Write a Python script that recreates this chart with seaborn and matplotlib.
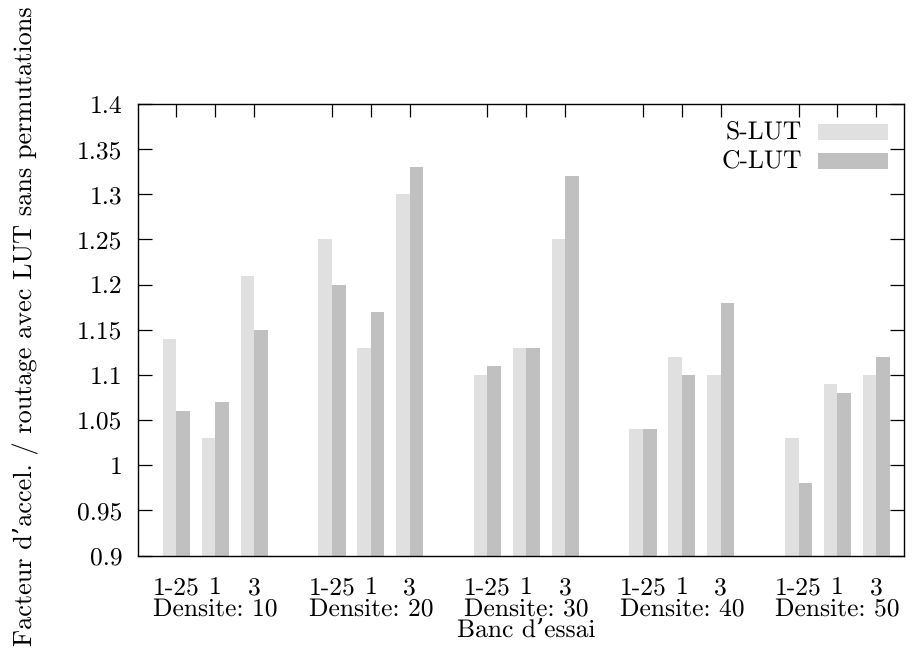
import matplotlib
matplotlib.use("Agg")
import matplotlib.pyplot as plt
import seaborn as sns
import pandas as pd
from matplotlib.patches import Rectangle

# ---- data -------------------------------------------------------------
densities = [10, 20, 30, 40, 50]
benchmarks = ["1-25", "1", "3"]
series = ["S-LUT", "C-LUT"]
s_lut = [1.14, 1.03, 1.21,
         1.25, 1.13, 1.30,
         1.10, 1.13, 1.25,
         1.04, 1.12, 1.10,
         1.03, 1.09, 1.10]
c_lut = [1.06, 1.07, 1.15,
         1.20, 1.17, 1.33,
         1.11, 1.13, 1.32,
         1.04, 1.10, 1.18,
         0.98, 1.08, 1.12]
y_ticks = [0.9, 0.95, 1.0, 1.05, 1.1, 1.15, 1.2, 1.25, 1.3, 1.35, 1.4]
y_tick_labels = ["0.9", "0.95", "1", "1.05", "1.1", "1.15", "1.2",
                 "1.25", "1.3", "1.35", "1.4"]
group_label = "Densite: {}"
x_title = "Banc d\u2019essai"
y_title = "Facteur d\u2019accel. / routage avec LUT sans permutations"
colors = ["#e0e0e0", "#c0c0c0"]

# ---- style ------------------------------------------------------------
sns.set_theme(style="white")
plt.rcParams["font.family"] = ["cmr10", "DejaVu Serif"]
plt.rcParams["axes.formatter.use_mathtext"] = True
plt.rcParams["text.hinting"] = "no_hinting"
FS = 18.4

rows = []
positions = []
for gi, d in enumerate(densities):
    for bi, b in enumerate(benchmarks):
        pos = gi * (len(benchmarks) + 1) + bi
        positions.append(pos)
        k = gi * len(benchmarks) + bi
        rows.append(dict(pos=pos, series=series[0], value=s_lut[k]))
        rows.append(dict(pos=pos, series=series[1], value=c_lut[k]))
df = pd.DataFrame(rows)

fig = plt.figure(figsize=(9.16, 6.52), dpi=100)
ax = fig.add_axes([137.5 / 916, 96.5 / 652, 766 / 916, 451.5 / 652])

sns.barplot(data=df, x="pos", y="value", hue="series", hue_order=series,
            palette=colors, native_scale=True, width=0.7, errorbar=None,
            saturation=1, edgecolor="none", linewidth=0, legend=False, ax=ax)

ax.set_xlim(-1.0, 18.7)
ax.set_ylim(0.9, 1.4)
ax.set_xlabel("")
ax.set_ylabel("")

for sp in ax.spines.values():
    sp.set_visible(True)
    sp.set_color("black")
    sp.set_linewidth(1.0)

ax.set_xticks(positions)
ax.set_xticklabels([])
ax.tick_params(axis="x", which="major", direction="in", length=9.2, width=0.9,
               color="black", top=True, bottom=False,
               labelbottom=False, labeltop=False)
ax.set_yticks(y_ticks)
ax.set_yticklabels(y_tick_labels)
ax.tick_params(axis="y", which="major", direction="in", length=9.9, width=0.9,
               color="black", left=True, right=True, labelsize=FS, pad=10.7,
               labelcolor="black")
ax.minorticks_off()

# benchmark labels under each pair
for gi, d in enumerate(densities):
    for bi, b in enumerate(benchmarks):
        pos = positions[gi * len(benchmarks) + bi]
        ax.annotate(b, xy=(pos, 0), xycoords=("data", "axes fraction"),
                    xytext=(0, -27.7), textcoords="offset points",
                    ha="center", va="baseline", fontsize=FS, color="black")
    center = positions[gi * len(benchmarks) + len(benchmarks) // 2]
    ax.annotate(group_label.format(d), xy=(center, 0),
                xycoords=("data", "axes fraction"),
                xytext=(0, -43.6), textcoords="offset points",
                ha="center", va="baseline", fontsize=FS, color="black")

mid = (positions[0] + positions[-1]) / 2
ax.annotate(x_title, xy=(mid, 0), xycoords=("data", "axes fraction"),
            xytext=(0, -58.9), textcoords="offset points",
            ha="center", va="baseline", fontsize=FS, color="black")

fig.text(32.7 / 916, 1 - 326.5 / 652, y_title, rotation=90,
         rotation_mode="anchor", ha="center", va="baseline",
         fontsize=18.9, color="black")

# legend (gnuplot style: text right-aligned, swatch on the right)
leg_y = [(0.9557, 0.9202), (0.8908, 0.8560)]
for (top, bot), name, col in zip(leg_y, series, colors):
    ax.add_patch(Rectangle((0.888, bot), 0.092, top - bot, transform=ax.transAxes,
                           facecolor=col, edgecolor="none", clip_on=False))
    ax.text(0.8671, (top + bot) / 2, name, transform=ax.transAxes,
            ha="right", va="center", fontsize=FS, color="black")

fig.savefig("out.png", dpi=100, facecolor="white")
